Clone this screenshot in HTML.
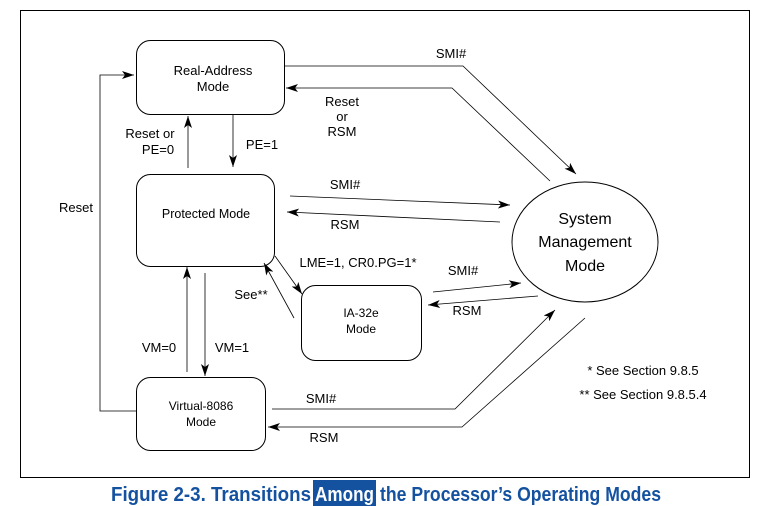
<!DOCTYPE html>
<html><head><meta charset="utf-8"><style>
html,body{margin:0;padding:0;background:#fff;}
svg{display:block;}
text{font-family:"Liberation Sans",Arial,sans-serif;fill:#000;}
</style></head><body>
<svg width="768" height="506" viewBox="0 0 768 506" xmlns="http://www.w3.org/2000/svg">
<defs>
<marker id="a" viewBox="0 0 12 8" refX="12" refY="4" markerWidth="12" markerHeight="8" markerUnits="userSpaceOnUse" orient="auto">
<path d="M0,0 L12,4 L0,8 L3,4 Z" fill="#000"/></marker>
</defs>
<rect x="20.5" y="10.5" width="729" height="467" fill="none" stroke="#000" stroke-width="1"/>
<g fill="none" stroke="#000" stroke-width="1">
<rect x="136.5" y="40.5" width="148" height="74" rx="14"/>
<rect x="136.5" y="174.5" width="138" height="92" rx="14"/>
<rect x="301.5" y="285.5" width="120" height="75" rx="14"/>
<rect x="136.5" y="377.5" width="129" height="73" rx="14"/>
<ellipse cx="585" cy="242" rx="73" ry="60"/>
</g>
<g fill="none" stroke="#000" stroke-width="0.8" marker-end="url(#a)">
<polyline points="136,411 100,411 100,75 134,75"/>
<polyline points="285,66 463,66 576,174"/>
<polyline points="550,181 452,88 286,88"/>
<line x1="233" y1="115" x2="233" y2="167"/>
<line x1="188" y1="168" x2="188" y2="116"/>
<line x1="290" y1="196" x2="510" y2="205"/>
<line x1="500" y1="222" x2="287" y2="212"/>
<line x1="275" y1="256" x2="302" y2="294"/>
<line x1="294" y1="318" x2="264" y2="263"/>
<line x1="433" y1="292" x2="521" y2="283"/>
<line x1="538" y1="296" x2="428" y2="305"/>
<line x1="187" y1="372" x2="187" y2="267"/>
<line x1="205" y1="273" x2="205" y2="376"/>
<polyline points="272,409 455,409 555,310"/>
<polyline points="585,318 462,427 268,427"/>
</g>
<g font-size="13" text-anchor="middle">
<text x="213" y="75">Real-Address</text>
<text x="213" y="91">Mode</text>
<text x="206" y="218" font-size="12.5">Protected Mode</text>
<text x="361" y="317" font-size="12">IA-32e</text>
<text x="361" y="333" font-size="12">Mode</text>
<text x="201" y="410" font-size="12">Virtual-8086</text>
<text x="201" y="426" font-size="12">Mode</text>
<text x="585" y="224" font-size="16">System</text>
<text x="585" y="247" font-size="16">Management</text>
<text x="585" y="271" font-size="16">Mode</text>
<text x="451" y="58">SMI#</text>
<text x="342" y="106">Reset</text>
<text x="342" y="121">or</text>
<text x="342" y="136">RSM</text>
<text x="150" y="138">Reset or</text>
<text x="158" y="154">PE=0</text>
<text x="262" y="149">PE=1</text>
<text x="76" y="212">Reset</text>
<text x="345" y="189">SMI#</text>
<text x="345" y="229">RSM</text>
<text x="358" y="267">LME=1, CR0.PG=1*</text>
<text x="251" y="299">See**</text>
<text x="463" y="275">SMI#</text>
<text x="467" y="315">RSM</text>
<text x="159" y="352">VM=0</text>
<text x="232" y="352">VM=1</text>
<text x="321" y="403">SMI#</text>
<text x="324" y="442">RSM</text>
<text x="643" y="375">* See Section 9.8.5</text>
<text x="643" y="399">** See Section 9.8.5.4</text>
</g>
<rect x="313" y="480" width="63" height="26" fill="#1452a0"/>
<g font-family="'Liberation Sans Narrow','Liberation Sans',sans-serif" font-size="20" font-weight="bold">
<text x="111" y="501" textLength="200" lengthAdjust="spacingAndGlyphs" style="fill:#1452a0">Figure 2-3.  Transitions</text>
<text x="315" y="501" textLength="59" lengthAdjust="spacingAndGlyphs" style="fill:#fff">Among</text>
<text x="380" y="501" textLength="281" lengthAdjust="spacingAndGlyphs" style="fill:#1452a0">the Processor’s Operating Modes</text>
</g>
</svg>
</body></html>
